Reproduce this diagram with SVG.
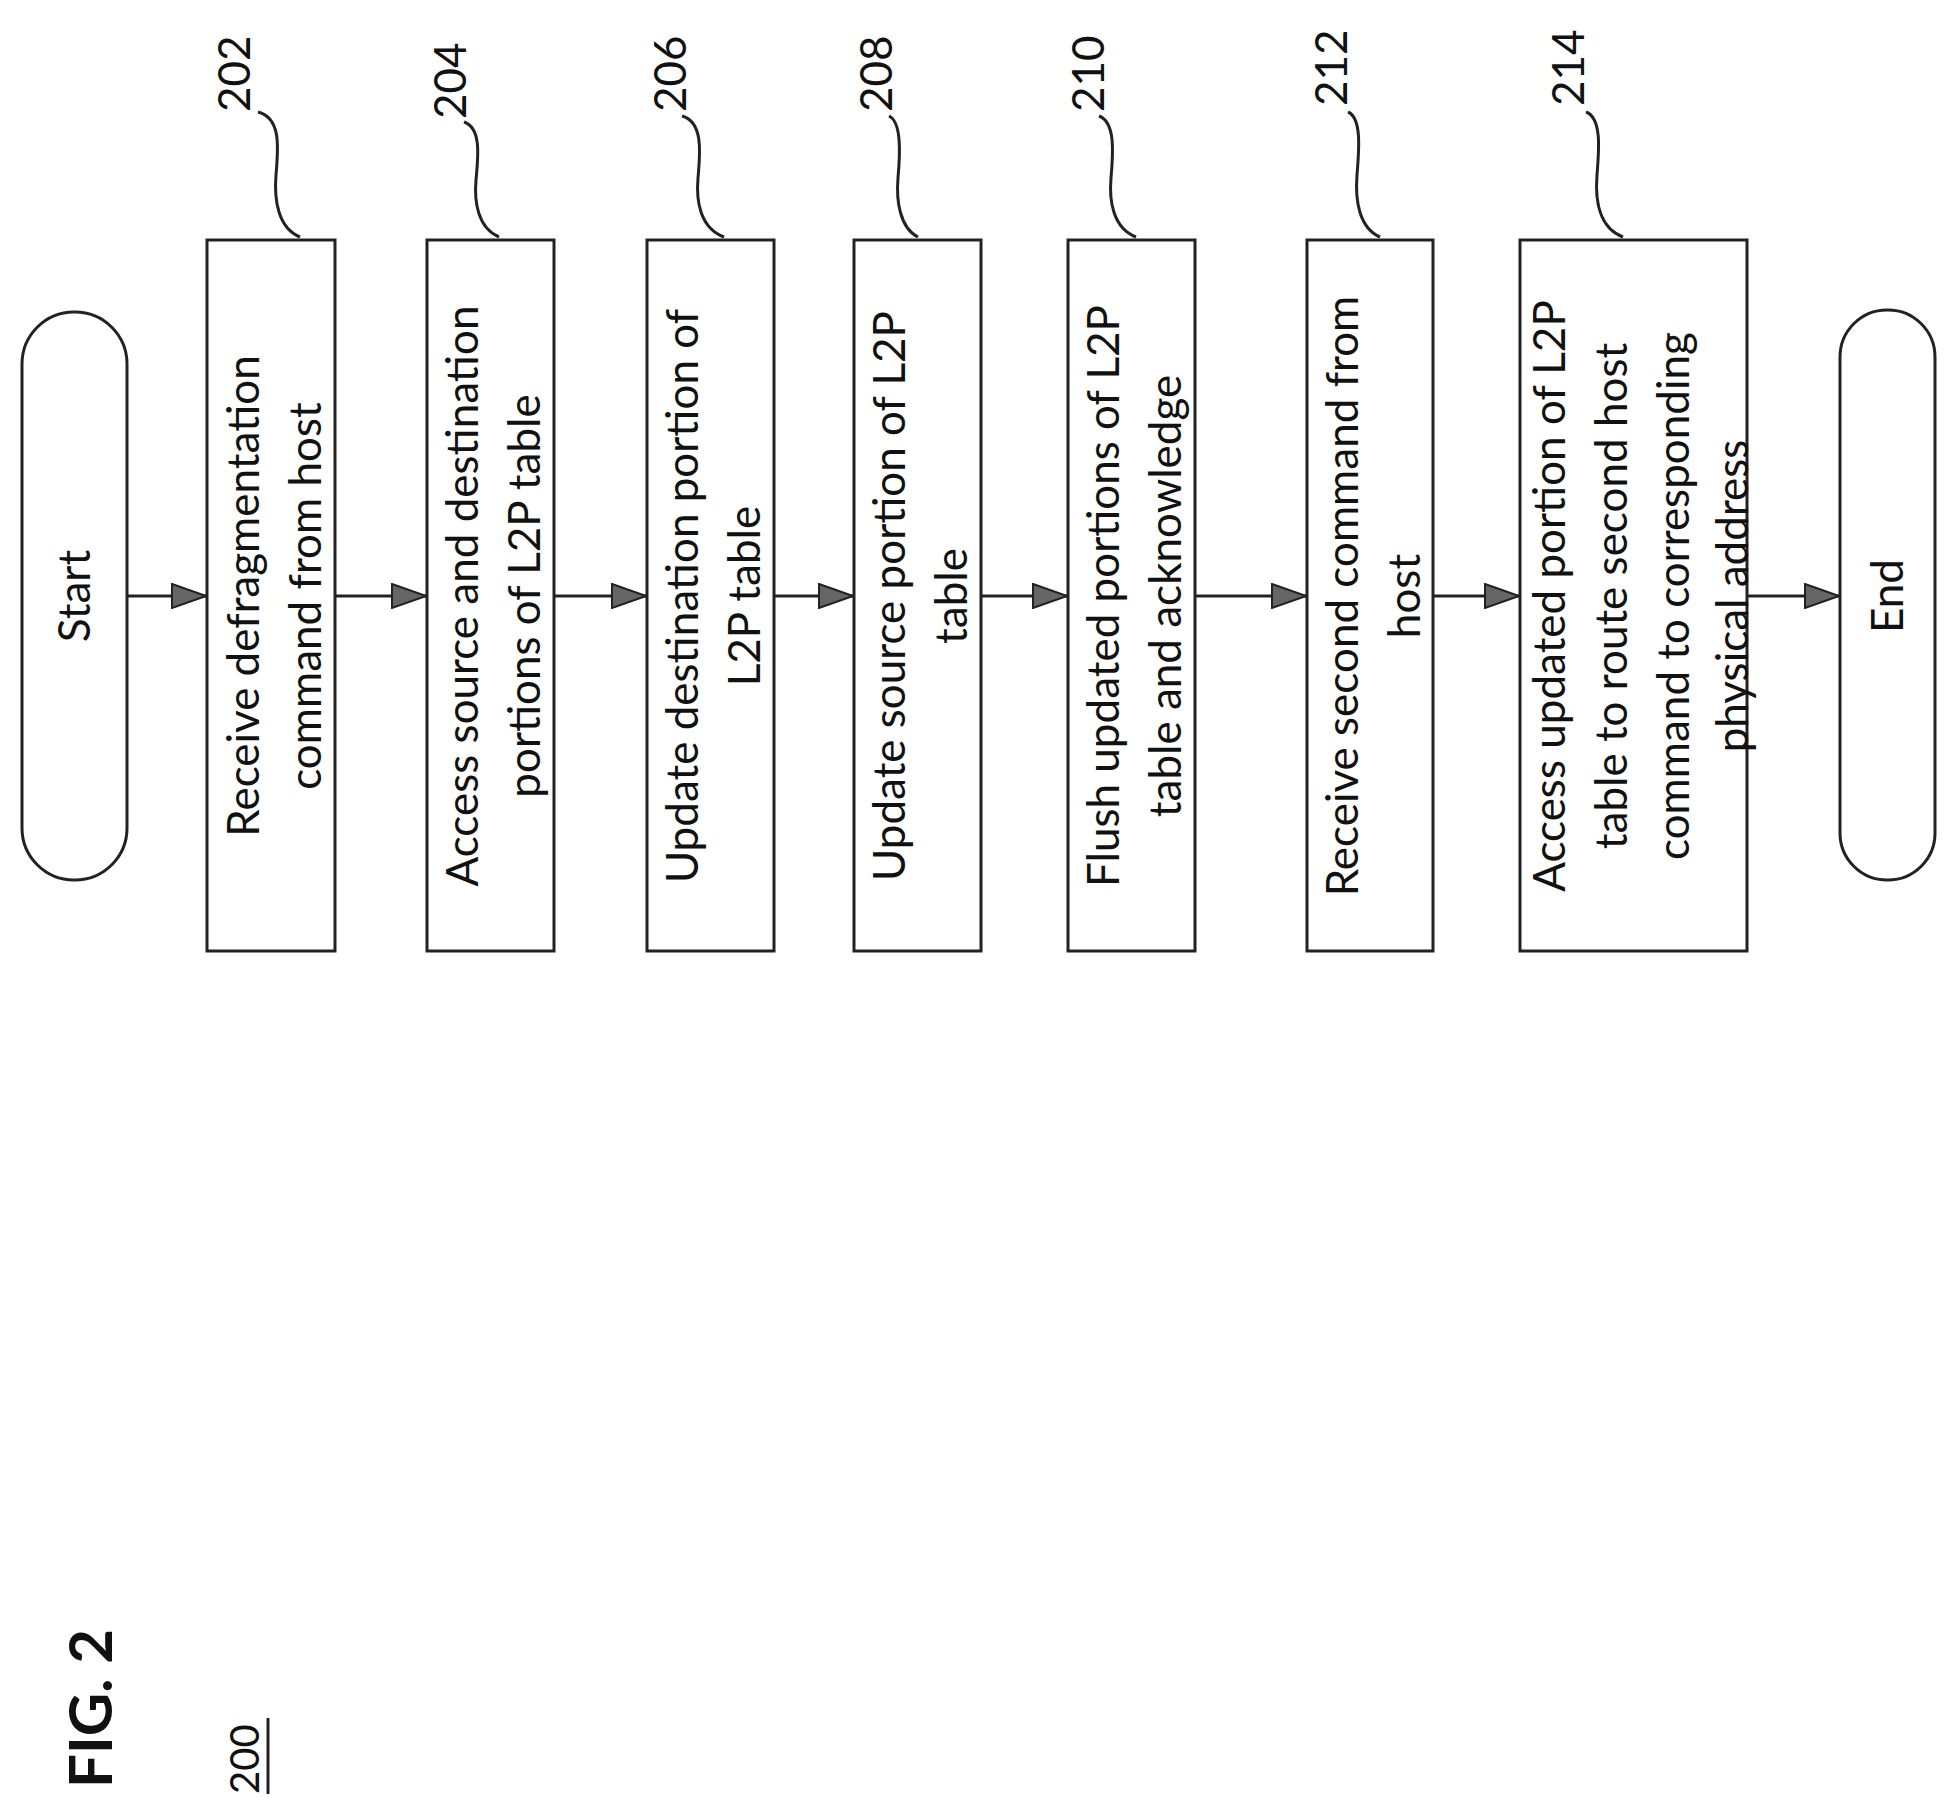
<svg xmlns="http://www.w3.org/2000/svg" width="1949" height="1814" viewBox="0 0 1949 1814">
<style>
.b{fill:#fff;stroke:#222;stroke-width:3}
.t{font-family:Lato,"Open Sans",sans-serif;font-size:44px;fill:#111;text-anchor:middle}
.n{font-family:Lato,"Open Sans",sans-serif;font-size:44px;fill:#111}
.c{fill:none;stroke:#222;stroke-width:3}
</style>
<defs>
<marker id="ah" markerWidth="36" markerHeight="26" refX="36" refY="13" orient="auto" markerUnits="userSpaceOnUse" viewBox="0 0 36 26"><path d="M1,1L35,13L1,25z" fill="#666" stroke="#222" stroke-width="2"/></marker>
</defs>
<g id="fig">
<text class="n" transform="translate(112,1788) rotate(-90)" style="font-weight:bold;font-size:60px">FIG. 2</text>
<text class="n" transform="translate(259,1794) rotate(-90)" style="font-size:40px">200</text>
<line x1="268" y1="1718" x2="268" y2="1794" stroke="#222" stroke-width="3"/>
</g>
<g id="connectors">
<line class="c" x1="127" y1="596" x2="207" y2="596" marker-end="url(#ah)"/>
<line class="c" x1="335" y1="596" x2="427" y2="596" marker-end="url(#ah)"/>
<line class="c" x1="554" y1="596" x2="647" y2="596" marker-end="url(#ah)"/>
<line class="c" x1="774" y1="596" x2="854" y2="596" marker-end="url(#ah)"/>
<line class="c" x1="981" y1="596" x2="1068" y2="596" marker-end="url(#ah)"/>
<line class="c" x1="1195" y1="596" x2="1307" y2="596" marker-end="url(#ah)"/>
<line class="c" x1="1433" y1="596" x2="1520" y2="596" marker-end="url(#ah)"/>
<line class="c" x1="1747" y1="596" x2="1840" y2="596" marker-end="url(#ah)"/>
</g>
<g id="start"><rect class="b" x="22" y="312" width="105" height="568" rx="52"/><text class="t" transform="translate(90,596) rotate(-90)">Start</text></g>
<g id="n202"><rect class="b" x="207" y="240" width="128" height="711"/>
<text class="t" transform="translate(271,596) rotate(-90)"><tspan x="0" y="-12">Receive defragmentation</tspan><tspan x="0" y="50">command from host</tspan></text>
<path class="c" d="M258,112 C282,118 278,150 276,175 S278,228 300,237"/><text class="n" transform="translate(250,112) rotate(-90)">202</text></g>
<g id="n204"><rect class="b" x="427" y="240" width="127" height="711"/>
<text class="t" transform="translate(490,596) rotate(-90)"><tspan x="0" y="-12">Access source and destination</tspan><tspan x="0" y="50">portions of L2P table</tspan></text>
<path class="c" d="M464,122 C482,128 478,158 476,180 S478,228 499,237"/><text class="n" transform="translate(466,119) rotate(-90)">204</text></g>
<g id="n206"><rect class="b" x="647" y="240" width="127" height="711"/>
<text class="t" transform="translate(710,596) rotate(-90)"><tspan x="0" y="-12">Update destination portion of</tspan><tspan x="0" y="50">L2P table</tspan></text>
<path class="c" d="M682,116 C704,122 700,155 698,178 S700,228 724,237"/><text class="n" transform="translate(686,112) rotate(-90)">206</text></g>
<g id="n208"><rect class="b" x="854" y="240" width="127" height="711"/>
<text class="t" transform="translate(917,596) rotate(-90)"><tspan x="0" y="-12">Update source portion of L2P</tspan><tspan x="0" y="50">table</tspan></text>
<path class="c" d="M889,116 C902,122 900,155 898,178 S900,228 918,237"/><text class="n" transform="translate(892,112) rotate(-90)">208</text></g>
<g id="n210"><rect class="b" x="1068" y="240" width="127" height="711"/>
<text class="t" transform="translate(1131,596) rotate(-90)"><tspan x="0" y="-12">Flush updated portions of L2P</tspan><tspan x="0" y="50">table and acknowledge</tspan></text>
<path class="c" d="M1099,116 C1116,122 1113,155 1111,178 S1113,228 1136,237"/><text class="n" transform="translate(1104,112) rotate(-90)">210</text></g>
<g id="n212"><rect class="b" x="1307" y="240" width="126" height="711"/>
<text class="t" transform="translate(1370,596) rotate(-90)"><tspan x="0" y="-12">Receive second command from</tspan><tspan x="0" y="50">host</tspan></text>
<path class="c" d="M1348,112 C1362,118 1359,150 1357,175 S1359,228 1380,237"/><text class="n" transform="translate(1347,106) rotate(-90)">212</text></g>
<g id="n214"><rect class="b" x="1520" y="240" width="227" height="711"/>
<text class="t" transform="translate(1636,596) rotate(-90)"><tspan x="0" y="-71">Access updated portion of L2P</tspan><tspan x="0" y="-9">table to route second host</tspan><tspan x="0" y="53">command to corresponding</tspan><tspan x="0" y="112">physical address</tspan></text>
<path class="c" d="M1586,112 C1602,118 1599,150 1597,175 S1599,228 1623,237"/><text class="n" transform="translate(1584,106) rotate(-90)">214</text></g>
<g id="end"><rect class="b" x="1840" y="310" width="95" height="570" rx="47"/><text class="t" transform="translate(1903,596) rotate(-90)">End</text></g>
</svg>
